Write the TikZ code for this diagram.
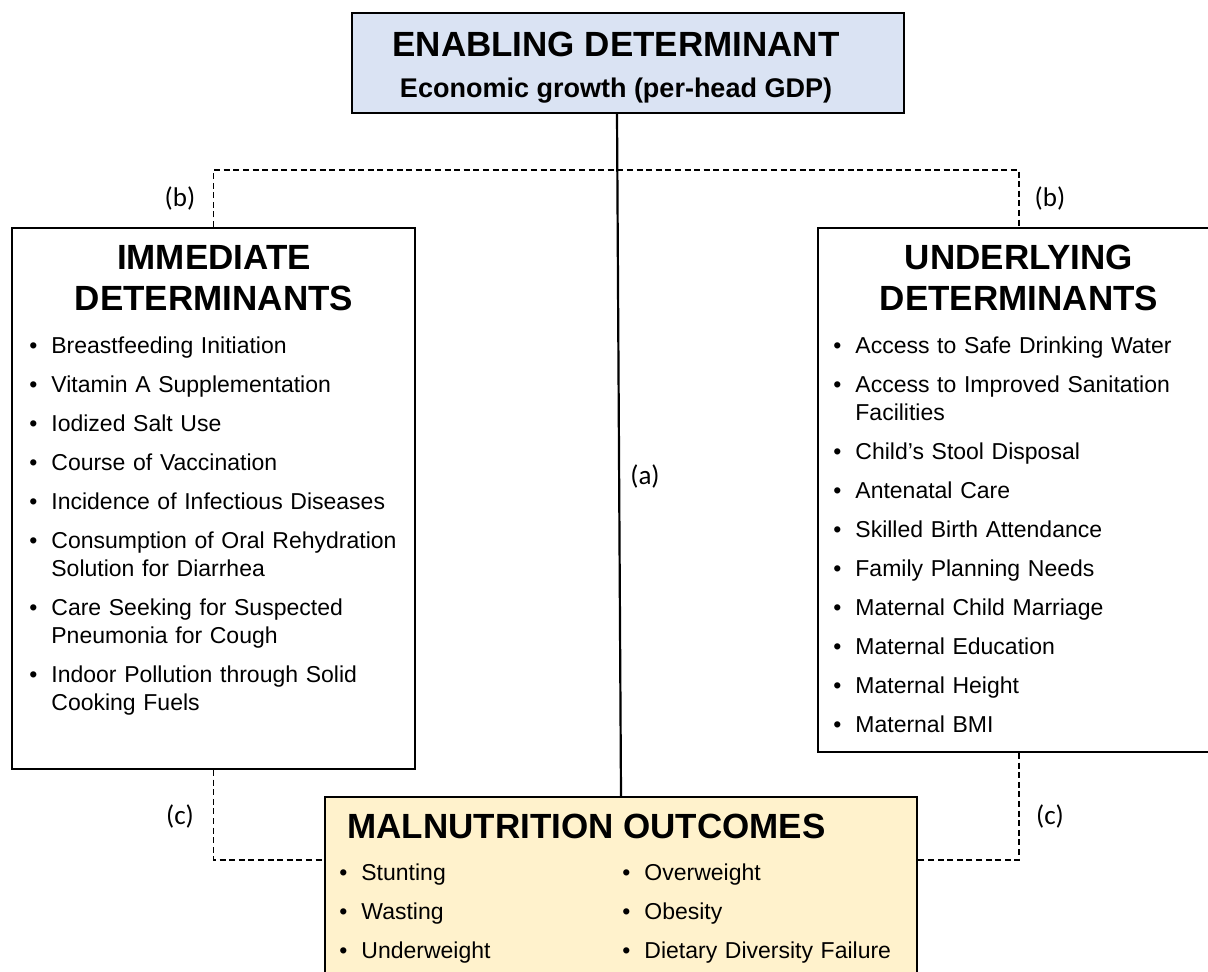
\documentclass[tikz,border=0pt]{standalone}
\usepackage{fontspec}
\setmainfont{Liberation Sans}
\newfontfamily\calfont{Carlito}
\usepackage{enumitem}
\setlist[itemize]{label=\textbullet, leftmargin=11pt, labelsep=7pt, itemsep=5.5pt, parsep=0pt, topsep=0pt, partopsep=0pt}
\definecolor{enablefill}{HTML}{DAE3F3}
\definecolor{outcomefill}{HTML}{FFF2CC}
\tikzset{
	box/.style={draw, line width=1pt, inner sep=0pt},
	heading/.style={font=\bfseries\fontsize{17.5}{20.5}\selectfont, align=center, inner sep=0pt},
	items/.style={font=\fontsize{11.5}{14}\selectfont, inner sep=0pt, anchor=base west, text width=#1},
	tag/.style={font=\calfont\fontsize{13.5}{16}\selectfont, inner sep=0pt},
	link/.style={line width=0.75pt, dash pattern=on 3pt off 1.8pt},
}
\begin{document}
\begin{tikzpicture}[x=0.5pt, y=-0.5pt]
	\useasboundingbox (0,0) rectangle (1208,971);
	\node (enabling) [box, fill=enablefill, minimum width=276pt, minimum height=50pt] at (628,63) {};
	\node (immediate) [box, minimum width=201.5pt, minimum height=270.5pt] at (213.5,498.5) {};
	\node (underlying) [box, minimum width=201pt, minimum height=262pt] at (1019,490) {};
	\node (outcomes) [box, fill=outcomefill, minimum width=296pt, minimum height=96.5pt] at (621,893.5) {};

	\node (enabtitle) [heading, anchor=base] at (616,56) {ENABLING DETERMINANT};
	\node (enabsub) [font=\bfseries\fontsize{13.5}{16}\selectfont, inner sep=0pt, anchor=base] at (616,97) {Economic growth (per-head GDP)};
	\node (immtitle) [heading, anchor=base] at (214,310.5) {IMMEDIATE\\DETERMINANTS};
	\node (undtitle) [heading, anchor=base] at (1019,310.5) {UNDERLYING\\DETERMINANTS};
	\node (outtitle) [heading, anchor=base west] at (347,838) {MALNUTRITION OUTCOMES};

	\node (immlist) [items=190pt] at (29,325) {\begin{itemize}
		\item Breastfeeding Initiation
		\item Vitamin A Supplementation
		\item Iodized Salt Use
		\item Course of Vaccination
		\item Incidence of Infectious Diseases
		\item Consumption of Oral Rehydration\newline Solution for Diarrhea
		\item Care Seeking for Suspected\newline Pneumonia for Cough
		\item Indoor Pollution through Solid\newline Cooking Fuels
	\end{itemize}};
	\node (undlist) [items=185pt] at (833,325) {\begin{itemize}
		\item Access to Safe Drinking Water
		\item Access to Improved Sanitation\newline Facilities
		\item Child’s Stool Disposal
		\item Antenatal Care
		\item Skilled Birth Attendance
		\item Family Planning Needs
		\item Maternal Child Marriage
		\item Maternal Education
		\item Maternal Height
		\item Maternal BMI
	\end{itemize}};
	\node (outlistleft) [items=130pt] at (339,852) {\begin{itemize}
		\item Stunting
		\item Wasting
		\item Underweight
	\end{itemize}};
	\node (outlistright) [items=150pt] at (622,852) {\begin{itemize}
		\item Overweight
		\item Obesity
		\item Dietary Diversity Failure
	\end{itemize}};

	\coordinate (bjoin) at (617,170);
	\coordinate (cjoin) at (621,860);
	\draw[line width=1.1pt] ([xshift=-5.5pt]enabling.south) -- (outcomes.north);
	\draw[link] (immediate.north) |- (bjoin) -| (underlying.north);
	\draw[link] (immediate.south) |- (cjoin -| outcomes.west);
	\draw[link] (underlying.south) |- (cjoin -| outcomes.east);

	\node (atag) [tag] at (645,476) {(a)};
	\node (btagleft) [tag] at (180,198) {(b)};
	\node (btagright) [tag] at (1050,198) {(b)};
	\node (ctagleft) [tag] at (180,816) {(c)};
	\node (ctagright) [tag] at (1050,816) {(c)};
\end{tikzpicture}
\end{document}
